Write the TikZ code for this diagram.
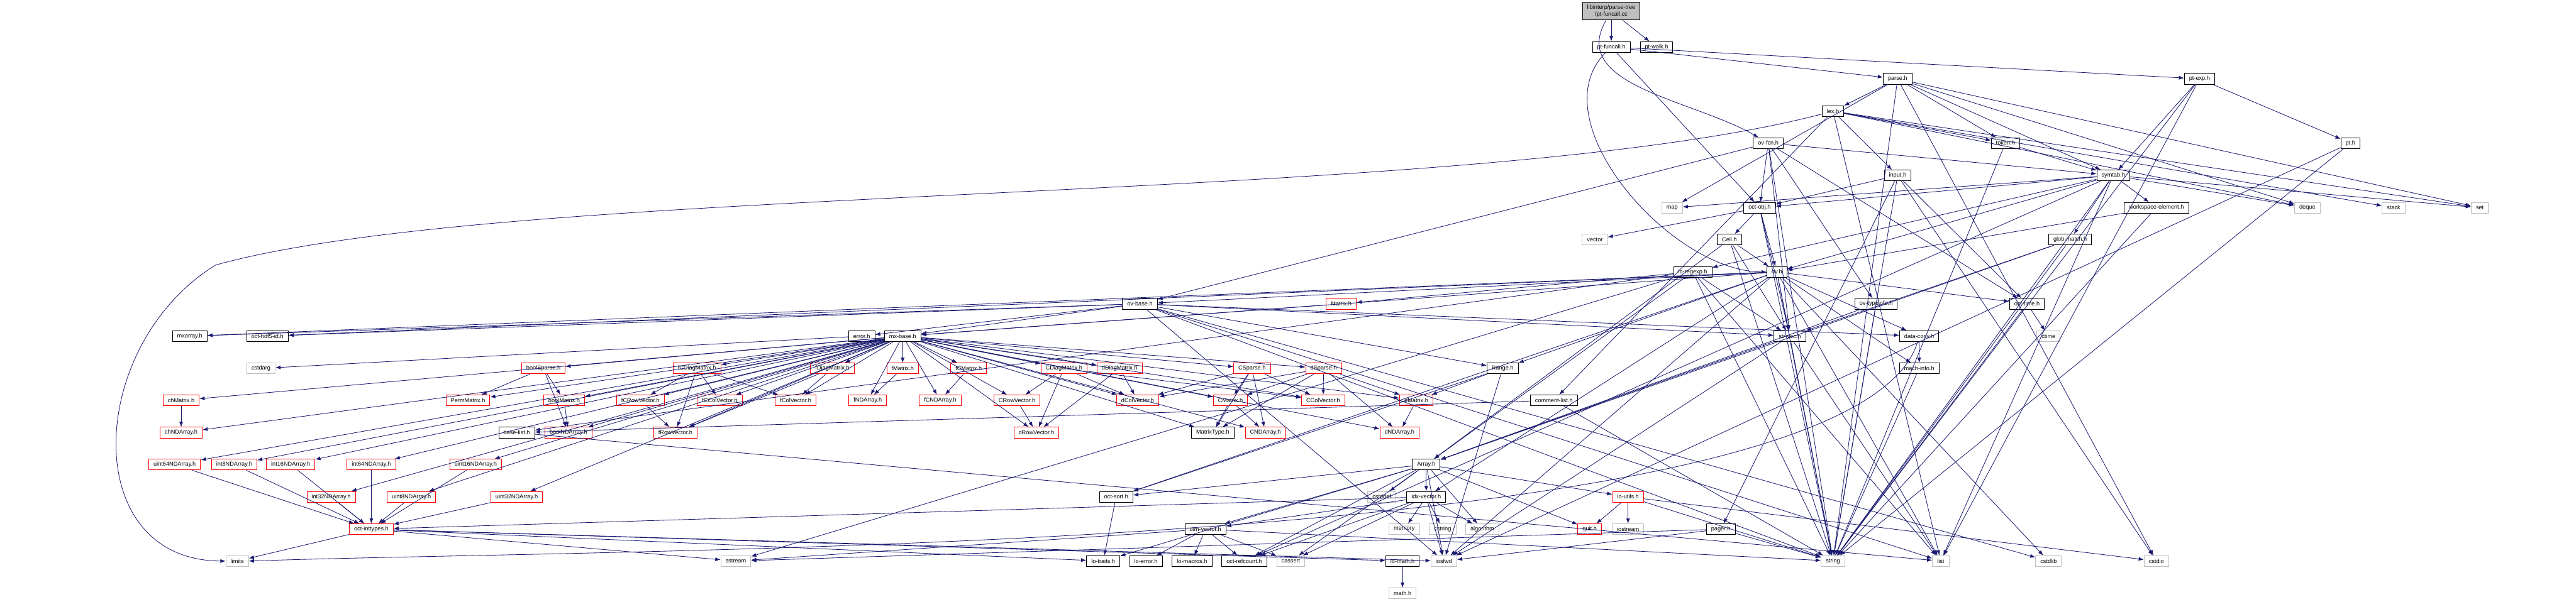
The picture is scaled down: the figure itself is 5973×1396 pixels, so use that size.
\documentclass[tikz,border=0pt]{standalone}
\usepackage{fontspec}
\setmainfont{Liberation Sans}
\usetikzlibrary{arrows.meta}
\definecolor{edgeblue}{HTML}{191970}
\definecolor{sysgray}{HTML}{BFBFBF}

\begin{document}
\begin{tikzpicture}[
  x=0.5pt, y=-0.5pt, font=\fontsize{6.7}{7.6}\selectfont,
  >={Latex[length=6pt,width=4.5pt]},
  hdr/.style={draw, line width=0.65pt, fill=white, inner xsep=5.5pt, inner ysep=0pt, minimum height=12.5pt},
  hred/.style={hdr, draw=red},
  hsys/.style={hdr, draw=sysgray},
  hroot/.style={hdr, fill=sysgray, align=center, minimum height=20.5pt},
  dep/.style={->, edgeblue, line width=0.6pt},
]
\useasboundingbox[fill=white] (0,0) rectangle (5973,1396);
% ---- top: the source file ----
\node[hroot] (ptfuncallcc) at (3736,26) {libinterp/parse-tree\\/pt-funcall.cc};
\node[hdr] (ptfuncall) at (3736,109) {pt-funcall.h};
\node[hdr] (ptwalk) at (3841,109) {pt-walk.h};
% ---- parser and symbol table ----
\node[hdr] (parse) at (4400,183) {parse.h};
\node[hdr] (ptexp) at (5100,183) {pt-exp.h};
\node[hdr] (lex) at (4250,258) {lex.h};
\node[hdr] (ovfcn) at (4100,332) {ov-fcn.h};
\node[hdr] (token) at (4650,332) {token.h};
\node[hdr] (pt) at (5450,332) {pt.h};
\node[hdr] (input) at (4400,407) {input.h};
\node[hdr] (symtab) at (4900,407) {symtab.h};
\node[hsys] (map) at (3877,482) {map};
\node[hdr] (octobj) at (4080,482) {oct-obj.h};
\node[hdr] (workspace) at (5000,482) {workspace-element.h};
\node[hsys] (deque) at (5350,482) {deque};
\node[hsys] (stack) at (5550,482) {stack};
\node[hsys] (set) at (5750,482) {set};
\node[hsys] (vector) at (3698,556) {vector};
\node[hdr] (cell) at (4010,556) {Cell.h};
\node[hdr] (globmatch) at (4800,556) {glob-match.h};
\node[hdr] (loregexp) at (3925,631) {lo-regexp.h};
\node[hdr] (ov) at (4120,631) {ov.h};
% ---- octave_value layer ----
\node[hdr] (ovbase) at (2643,705) {ov-base.h};
\node[hred] (matrix) at (3110,705) {Matrix.h};
\node[hdr] (ovtypeinfo) at (4350,705) {ov-typeinfo.h};
\node[hdr] (octtime) at (4700,705) {oct-time.h};
\node[hdr] (mxarray) at (440,780) {mxarray.h};
\node[hdr] (hdfid) at (620,780) {oct-hdf5-id.h};
\node[hdr] (errorh) at (1998,780) {error.h};
\node[hdr] (mxbase) at (2093,780) {mx-base.h};
\node[hdr] (strvec) at (4150,780) {str-vec.h};
\node[hdr] (dataconv) at (4450,780) {data-conv.h};
\node[hsys] (ctime) at (4750,780) {ctime};
% ---- matrix headers ----
\node[hsys] (cstdarg) at (605,855) {cstdarg};
\node[hred] (boolsparse) at (1260,855) {boolSparse.h};
\node[hred] (fcdiag) at (1616,855) {fCDiagMatrix.h};
\node[hred] (fdiag) at (1930,855) {fDiagMatrix.h};
\node[hred] (fmatrix) at (2093,855) {fMatrix.h};
\node[hred] (fcmatrix) at (2246,855) {fCMatrix.h};
\node[hred] (cdiag) at (2467,855) {CDiagMatrix.h};
\node[hred] (ddiag) at (2596,855) {dDiagMatrix.h};
\node[hred] (csparse) at (2903,855) {CSparse.h};
\node[hred] (dsparse) at (3069,855) {dSparse.h};
\node[hdr] (range) at (3484,855) {Range.h};
\node[hdr] (machinfo) at (4450,855) {mach-info.h};
% ---- vectors and arrays ----
\node[hred] (chmatrix) at (420,929) {chMatrix.h};
\node[hred] (permmatrix) at (1085,929) {PermMatrix.h};
\node[hred] (boolmatrix) at (1308,929) {boolMatrix.h};
\node[hred] (fcrowvec) at (1485,929) {fCRowVector.h};
\node[hred] (fccolvec) at (1669,929) {fCColVector.h};
\node[hred] (fcolvec) at (1845,929) {fColVector.h};
\node[hred] (fndarray) at (2012,929) {fNDArray.h};
\node[hred] (fcndarray) at (2180,929) {fCNDArray.h};
\node[hred] (crowvec) at (2358,929) {CRowVector.h};
\node[hred] (dcolvec) at (2638,929) {dColVector.h};
\node[hred] (cmatrix) at (2853,929) {CMatrix.h};
\node[hred] (ccolvec) at (3068,929) {CColVector.h};
\node[hred] (dmatrix) at (3284,929) {dMatrix.h};
\node[hdr] (commentlist) at (3603,929) {comment-list.h};
\node[hred] (chnd) at (420,1004) {chNDArray.h};
\node[hdr] (baselist) at (1198,1004) {base-list.h};
\node[hred] (boolnd) at (1318,1004) {boolNDArray.h};
\node[hred] (frowvec) at (1566,1004) {fRowVector.h};
\node[hred] (drowvec) at (2403,1004) {dRowVector.h};
\node[hdr] (matrixtype) at (2812,1004) {MatrixType.h};
\node[hred] (cndarray) at (2934,1004) {CNDArray.h};
\node[hred] (dndarray) at (3245,1004) {dNDArray.h};
% ---- integer arrays ----
\node[hred] (uint64nd) at (405,1078) {uint64NDArray.h};
\node[hred] (int8nd) at (543,1078) {int8NDArray.h};
\node[hred] (int16nd) at (674,1078) {int16NDArray.h};
\node[hred] (int64nd) at (861,1078) {int64NDArray.h};
\node[hred] (uint16nd) at (1103,1078) {uint16NDArray.h};
\node[hdr] (arrayh) at (3307,1078) {Array.h};
\node[hred] (int32nd) at (768,1153) {int32NDArray.h};
\node[hred] (uint8nd) at (954,1153) {uint8NDArray.h};
\node[hred] (uint32nd) at (1198,1153) {uint32NDArray.h};
\node[hdr] (octsort) at (2588,1153) {oct-sort.h};
\node[hsys] (cstddef) at (3204,1153) {cstddef};
\node[hdr] (idxvector) at (3307,1153) {idx-vector.h};
\node[hred] (loutils) at (3775,1153) {lo-utils.h};
% ---- bottom ----
\node[hred] (inttypes) at (861,1228) {oct-inttypes.h};
\node[hdr] (dimvector) at (2795,1228) {dim-vector.h};
\node[hsys] (memory) at (3256,1228) {memory};
\node[hsys] (cstring) at (3345,1228) {cstring};
\node[hsys] (algorithm) at (3437,1228) {algorithm};
\node[hred] (quit) at (3686,1228) {quit.h};
\node[hsys] (iostream) at (3775,1228) {iostream};
\node[hdr] (pager) at (3990,1228) {pager.h};
\node[hsys] (limits) at (550,1302) {limits};
\node[hsys] (sstream) at (1706,1302) {sstream};
\node[hdr] (lotraits) at (2558,1302) {lo-traits.h};
\node[hdr] (loerror) at (2657,1302) {lo-error.h};
\node[hdr] (lomacros) at (2764,1302) {lo-macros.h};
\node[hdr] (refcount) at (2885,1302) {oct-refcount.h};
\node[hsys] (cassert) at (2993,1302) {cassert};
\node[hdr] (lomath) at (3252,1302) {lo-math.h};
\node[hsys] (iosfwd) at (3348,1302) {iosfwd};
\node[hsys] (string) at (4250,1302) {string};
\node[hsys] (list) at (4500,1302) {list};
\node[hsys] (cstdlib) at (4750,1302) {cstdlib};
\node[hsys] (cstdio) at (5000,1302) {cstdio};
\node[hsys] (mathh) at (3252,1377) {math.h};
% ---- edges: parse tree ----
\path (ptfuncallcc) edge[dep] (ptfuncall) edge[dep] (ptwalk)
  edge[dep, out=-120, in=150] (ovfcn);
\path (ptfuncall) edge[dep] (parse) edge[dep] (ptexp) edge[dep] (octobj)
  edge[dep, out=-135, in=180, looseness=0.9] (ov);
\path (parse) edge[dep] (lex) edge[dep] (symtab) edge[dep] (token)
  edge[dep] (map) edge[dep] (deque) edge[dep] (set) edge[dep] (string) edge[dep] (cstdio);
\path (ptexp) edge[dep] (pt) edge[dep] (symtab) edge[dep] (string) edge[dep] (list);
\path (pt) edge[dep] (string) edge[dep] (iosfwd);
\path (lex) edge[dep] (token) edge[dep] (input) edge[dep] (commentlist)
  edge[dep] (deque) edge[dep] (stack) edge[dep] (set) edge[dep] (list);
\draw[dep] (lex) .. controls (3400,480) and (1200,420) .. (500,615)
  .. controls (200,800) and (180,1300) .. (limits.west);
\path (token) edge[dep] (symtab) edge[dep] (string);
\path (input) edge[dep] (octobj) edge[dep] (octtime) edge[dep] (pager)
  edge[dep] (string) edge[dep] (cstdio);
\path (ovfcn) edge[dep] (symtab) edge[dep] (octobj) edge[dep] (ovbase)
  edge[dep] (ovtypeinfo) edge[dep] (octtime) edge[dep] (strvec) edge[dep] (string);
\path (symtab) edge[dep] (octobj) edge[dep] (workspace) edge[dep] (globmatch)
  edge[dep] (loregexp) edge[dep] (ov) edge[dep] (map) edge[dep] (deque)
  edge[dep] (set) edge[dep] (list) edge[dep] (string) edge[dep] (refcount);
\path (workspace) edge[dep] (ov) edge[dep] (string);
\path (octobj) edge[dep] (cell) edge[dep] (ov) edge[dep] (vector)
  edge[dep] (strvec) edge[dep] (string);
\path (cell) edge[dep] (ov) edge[dep] (arrayh) edge[dep] (strvec) edge[dep] (string);
\path (globmatch) edge[dep] (arrayh) edge[dep] (strvec) edge[dep] (string);
\path (loregexp) edge[dep] (matrix) edge[dep] (baselist) edge[dep] (arrayh)
  edge[dep] (strvec) edge[dep] (sstream) edge[dep] (list) edge[dep] (string);
% ---- edges: octave_value ----
\path (ov) edge[dep] (ovbase) edge[dep] (range) edge[dep] (idxvector)
  edge[dep] (mxbase) edge[dep] (dataconv) edge[dep] (machinfo) edge[dep] (mxarray)
  edge[dep] (hdfid) edge[dep] (octtime) edge[dep] (strvec) edge[dep] (octsort)
  edge[dep] (cstdlib) edge[dep] (iosfwd) edge[dep] (list) edge[dep] (string);
\path (ovtypeinfo) edge[dep] (arrayh) edge[dep] (string);
\path (ovbase) edge[dep] (mxbase) edge[dep] (errorh) edge[dep] (hdfid)
  edge[dep] (mxarray) edge[dep] (range) edge[dep] (strvec) edge[dep] (dataconv)
  edge[dep] (cstdlib) edge[dep] (iosfwd) edge[dep] (list) edge[dep] (string);
\path (octtime) edge[dep] (ctime) edge[dep] (string);
\path (strvec) edge[dep] (arrayh) edge[dep] (iosfwd) edge[dep] (list) edge[dep] (string);
\path (dataconv) edge[dep] (machinfo);
\draw[dep] (dataconv) .. controls (4300,1290) and (1500,1270) .. (limits.east);
\path (machinfo) edge[dep] (string);
\path (matrix) edge[dep] (mxbase);
\path (errorh) edge[dep] (cstdarg);
% ---- edges: mx-base fan-out ----
\path (mxbase) edge[dep] (boolsparse) edge[dep] (fcdiag) edge[dep] (fdiag)
  edge[dep] (fmatrix) edge[dep] (fcmatrix) edge[dep] (cdiag) edge[dep] (ddiag)
  edge[dep] (csparse) edge[dep] (dsparse) edge[dep] (permmatrix) edge[dep] (boolmatrix)
  edge[dep] (fcrowvec) edge[dep] (fccolvec) edge[dep] (fcolvec) edge[dep] (fndarray)
  edge[dep] (fcndarray) edge[dep] (crowvec) edge[dep] (dcolvec) edge[dep] (cmatrix)
  edge[dep] (ccolvec) edge[dep] (dmatrix) edge[dep] (boolnd) edge[dep] (frowvec)
  edge[dep] (drowvec) edge[dep] (matrixtype) edge[dep] (cndarray) edge[dep] (dndarray)
  edge[dep] (chmatrix) edge[dep] (chnd) edge[dep] (uint64nd) edge[dep] (int8nd)
  edge[dep] (int16nd) edge[dep] (int64nd) edge[dep] (uint16nd) edge[dep] (int32nd)
  edge[dep] (uint8nd) edge[dep] (uint32nd);
% ---- edges: matrix classes ----
\path (boolsparse) edge[dep] (permmatrix) edge[dep] (boolmatrix) edge[dep] (boolnd);
\path (boolmatrix) edge[dep] (boolnd);
\path (chmatrix) edge[dep] (chnd);
\path (fcdiag) edge[dep] (fcrowvec) edge[dep] (fccolvec) edge[dep] (fcolvec) edge[dep] (frowvec);
\path (fdiag) edge[dep] (fcolvec) edge[dep] (frowvec);
\path (fmatrix) edge[dep] (fndarray);
\path (fcmatrix) edge[dep] (fcndarray);
\path (fcrowvec) edge[dep] (frowvec);
\path (cdiag) edge[dep] (crowvec) edge[dep] (dcolvec) edge[dep] (ccolvec) edge[dep] (drowvec);
\path (ddiag) edge[dep] (dcolvec) edge[dep] (drowvec);
\path (crowvec) edge[dep] (drowvec);
\path (csparse) edge[dep] (cmatrix) edge[dep] (ccolvec) edge[dep] (dcolvec)
  edge[dep] (matrixtype) edge[dep] (cndarray);
\path (dsparse) edge[dep] (ccolvec) edge[dep] (dcolvec) edge[dep] (cmatrix)
  edge[dep] (dmatrix) edge[dep] (dndarray) edge[dep] (matrixtype);
\path (cmatrix) edge[dep] (matrixtype) edge[dep] (cndarray);
\path (dmatrix) edge[dep] (dndarray);
\path (range) edge[dep] (dmatrix) edge[dep] (octsort) edge[dep] (iosfwd);
\path (commentlist) edge[dep] (baselist) edge[dep] (string);
\path (baselist) edge[dep] (list);
% ---- edges: integer types ----
\path (int8nd) edge[dep] (inttypes);
\path (int16nd) edge[dep] (inttypes);
\path (int64nd) edge[dep] (inttypes);
\path (uint16nd) edge[dep] (inttypes);
\path (int32nd) edge[dep] (inttypes);
\path (uint8nd) edge[dep] (inttypes);
\path (uint32nd) edge[dep] (inttypes);
\path (uint64nd) edge[dep] (inttypes);
\path (inttypes) edge[dep] (limits) edge[dep] (lomath) edge[dep] (iosfwd)
  edge[dep] (sstream) edge[dep] (lotraits);
% ---- edges: liboctave core ----
\path (arrayh) edge[dep] (dimvector) edge[dep] (idxvector) edge[dep] (lotraits)
  edge[dep] (loutils) edge[dep] (octsort) edge[dep] (quit) edge[dep] (refcount)
  edge[dep] (cassert) edge[dep] (cstddef) edge[dep] (algorithm) edge[dep] (iosfwd);
\path (idxvector) edge[dep] (dimvector) edge[dep] (inttypes) edge[dep] (refcount)
  edge[dep] (cassert) edge[dep] (memory) edge[dep] (cstring) edge[dep] (algorithm)
  edge[dep] (iosfwd);
\path (dimvector) edge[dep] (loerror) edge[dep] (lomacros) edge[dep] (refcount)
  edge[dep] (cassert) edge[dep] (sstream) edge[dep] (string);
\path (octsort) edge[dep] (lotraits);
\path (loutils) edge[dep] (quit) edge[dep] (iostream) edge[dep] (string) edge[dep] (cstdio);
\path (pager) edge[dep] (iosfwd) edge[dep] (sstream) edge[dep] (string);
\path (lomath) edge[dep] (mathh);
\end{tikzpicture}
\end{document}
